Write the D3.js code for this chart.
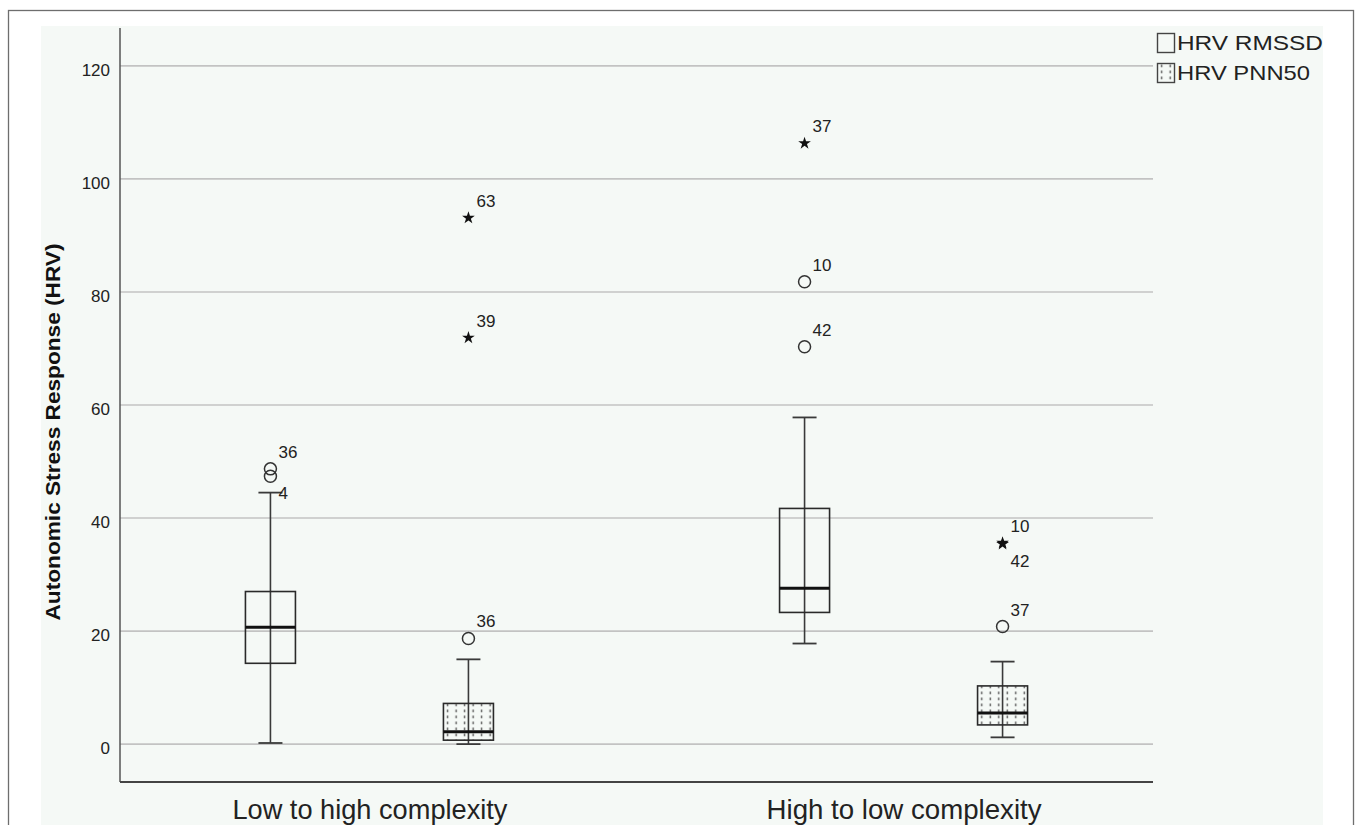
<!DOCTYPE html>
<html>
<head>
<meta charset="utf-8">
<script src="https://cdn.jsdelivr.net/npm/d3@7"></script>
<style>
  html, body { margin: 0; padding: 0; background: #ffffff; }
  svg { display: block; font-family: "Liberation Sans", Arial, sans-serif; }
</style>
</head>
<body>
<svg id="chart" width="1357" height="825"></svg>
<script>
// ---------------- DATA ----------------
const categories = ["Low to high complexity", "High to low complexity"];
const seriesNames = ["HRV RMSSD", "HRV PNN50"];
const yTicks = [0, 20, 40, 60, 80, 100, 120];
const yTitle = "Autonomic Stress Response (HRV)";

// five-number summaries per category: [lowerWhisker, Q1, median, Q3, upperWhisker]
const rmssdBoxes = [
  [0.2, 14.3, 20.7, 27.0, 44.5],
  [17.8, 23.3, 27.6, 41.7, 57.8]
];
const pnn50Boxes = [
  [0.0, 0.7, 2.2, 7.2, 15.0],
  [1.2, 3.4, 5.5, 10.3, 14.6]
];

// outliers: category index, series index, value, case label, kind, label side
const outlierCategory = [0, 0, 0, 0, 0, 1, 1, 1, 1, 1, 1];
const outlierSeries   = [0, 0, 1, 1, 1, 0, 0, 0, 1, 1, 1];
const outlierValues   = [48.7, 47.4, 18.7, 93.1, 71.9, 106.3, 81.8, 70.3, 20.8, 35.6, 35.4];
const outlierLabels   = ["36", "4", "36", "63", "39", "37", "10", "42", "37", "10", "42"];
const outlierKinds    = ["o", "o", "o", "*", "*", "*", "o", "o", "o", "*", "*"];
const outlierSides    = ["above", "below", "above", "above", "above", "above", "above", "above", "above", "above", "below"];

// ---------------- DRAW ----------------
const svg = d3.select("#chart");
const W = 1357, H = 825;
const plotLeft = 120, plotRight = 1153, plotTop = 28, plotBottom = 782;

// outer frame and panel
svg.append("rect").attr("x", 0).attr("y", 0).attr("width", W).attr("height", H).attr("fill", "#ffffff");
svg.append("rect").attr("x", 8.5).attr("y", 10.5).attr("width", 1345).attr("height", 830)
  .attr("fill", "#ffffff").attr("stroke", "#6e6e6e").attr("stroke-width", 1.3);
svg.append("rect").attr("x", 41).attr("y", 26).attr("width", 1282).attr("height", 820)
  .attr("fill", "#f5f9f6");

// pattern for PNN50
const defs = svg.append("defs");
const pat = defs.append("pattern").attr("id", "dots")
  .attr("patternUnits", "userSpaceOnUse").attr("width", 8.5).attr("height", 6)
  .attr("x", 0.5).attr("y", 0);
pat.append("rect").attr("x", 3.5).attr("y", 1.5).attr("width", 1.4).attr("height", 2.8).attr("fill", "#5e5e5e");

const y = d3.scaleLinear().domain([-6.7, 126.7]).range([plotBottom, plotTop]);
const x = d3.scalePoint().domain(categories).range([plotLeft, plotRight]).padding(0.467);
const xs = d3.scalePoint().domain(seriesNames).range([-99, 99]);

// gridlines
svg.append("g").selectAll("line").data(yTicks).join("line")
  .attr("x1", plotLeft).attr("x2", plotRight)
  .attr("y1", d => y(d)).attr("y2", d => y(d))
  .attr("stroke", "#c3c3c3").attr("stroke-width", 1.6);

// y axis (labels only, no ticks)
const yAxis = d3.axisLeft(y).tickValues(yTicks).tickSize(0).tickPadding(10).tickFormat(d3.format("d"));
const gy = svg.append("g").attr("transform", `translate(${plotLeft},0)`).call(yAxis);
gy.select(".domain").remove();
gy.selectAll("text").attr("font-size", 17).attr("fill", "#222").attr("dy", "0.55em")
  .attr("font-family", "'Liberation Sans', Arial, sans-serif");

svg.append("line").attr("x1", plotLeft).attr("x2", plotLeft).attr("y1", plotTop).attr("y2", plotBottom)
  .attr("stroke", "#555").attr("stroke-width", 1.5);
svg.append("line").attr("x1", plotLeft).attr("x2", plotRight).attr("y1", plotBottom).attr("y2", plotBottom)
  .attr("stroke", "#444").attr("stroke-width", 2);

// x axis labels
const xAxis = d3.axisBottom(x).tickSize(0).tickPadding(0);
const gx = svg.append("g").attr("transform", `translate(0,${plotBottom})`).call(xAxis);
gx.select(".domain").remove();
gx.selectAll("text").attr("font-size", 28).attr("fill", "#222").attr("y", 37).attr("dy", 0)
  .attr("font-family", "'Liberation Sans', Arial, sans-serif")
  .attr("textLength", 275).attr("lengthAdjust", "spacingAndGlyphs");

// y title
svg.append("text").attr("transform", "translate(60,432) rotate(-90)")
  .attr("text-anchor", "middle").attr("font-size", 20).attr("font-weight", "bold").attr("fill", "#111")
  .attr("textLength", 377).attr("lengthAdjust", "spacingAndGlyphs")
  .text(yTitle);

// boxes
const boxW = 50, capW = 24;
const boxSets = [rmssdBoxes, pnn50Boxes];
const boxData = [];
seriesNames.forEach((s, si) => categories.forEach((c, ci) => boxData.push({ s, si, c, v: boxSets[si][ci] })));

const gb = svg.append("g").selectAll("g").data(boxData).join("g")
  .attr("transform", d => `translate(${x(d.c) + xs(d.s)},0)`);
gb.append("line").attr("x1", 0).attr("x2", 0).attr("y1", d => y(d.v[0])).attr("y2", d => y(d.v[4]))
  .attr("stroke", "#3a3a3a").attr("stroke-width", 1.6);
gb.append("line").attr("x1", -capW / 2).attr("x2", capW / 2).attr("y1", d => y(d.v[0])).attr("y2", d => y(d.v[0]))
  .attr("stroke", "#3a3a3a").attr("stroke-width", 1.8);
gb.append("line").attr("x1", -capW / 2).attr("x2", capW / 2).attr("y1", d => y(d.v[4])).attr("y2", d => y(d.v[4]))
  .attr("stroke", "#3a3a3a").attr("stroke-width", 1.8);
gb.append("rect").attr("x", -boxW / 2).attr("width", boxW)
  .attr("y", d => y(d.v[3])).attr("height", d => y(d.v[1]) - y(d.v[3]))
  .attr("fill", d => d.si === 1 ? "url(#dots)" : "none")
  .attr("stroke", "#2a2a2a").attr("stroke-width", 1.6);
gb.append("line").attr("x1", -boxW / 2).attr("x2", boxW / 2).attr("y1", d => y(d.v[2])).attr("y2", d => y(d.v[2]))
  .attr("stroke", "#111").attr("stroke-width", 3);

// outliers
const outliers = outlierValues.map((v, i) => ({
  c: categories[outlierCategory[i]], s: seriesNames[outlierSeries[i]], v,
  label: outlierLabels[i], kind: outlierKinds[i], side: outlierSides[i]
}));

const go = svg.append("g").selectAll("g").data(outliers).join("g")
  .attr("transform", d => `translate(${x(d.c) + xs(d.s)},${y(d.v)})`);
go.filter(d => d.kind === "o").append("circle").attr("r", 6)
  .attr("fill", "none").attr("stroke", "#333").attr("stroke-width", 1.5);
go.filter(d => d.kind === "*").append("path")
  .attr("d", d3.symbol().type(d3.symbolStar).size(50))
  .attr("fill", "#111");
go.append("text")
  .attr("x", 8).attr("y", d => d.side === "above" ? -11 : 23)
  .attr("font-size", 17).attr("fill", "#222")
  .text(d => d.label);

// legend
const lg = svg.append("g").selectAll("g").data(seriesNames).join("g")
  .attr("transform", (d, i) => `translate(1157,${33 + i * 30})`);
lg.append("rect").attr("x", 0.5).attr("y", 0.5).attr("width", 17).attr("height", 19)
  .attr("fill", (d, i) => i === 1 ? "url(#dots)" : "none")
  .attr("stroke", "#444").attr("stroke-width", 1.4);
lg.append("text").attr("x", 20).attr("y", 17).attr("font-size", 21).attr("fill", "#222")
  .attr("textLength", (d, i) => i === 0 ? 146 : 133).attr("lengthAdjust", "spacingAndGlyphs")
  .text(d => d);
</script>
</body>
</html>
